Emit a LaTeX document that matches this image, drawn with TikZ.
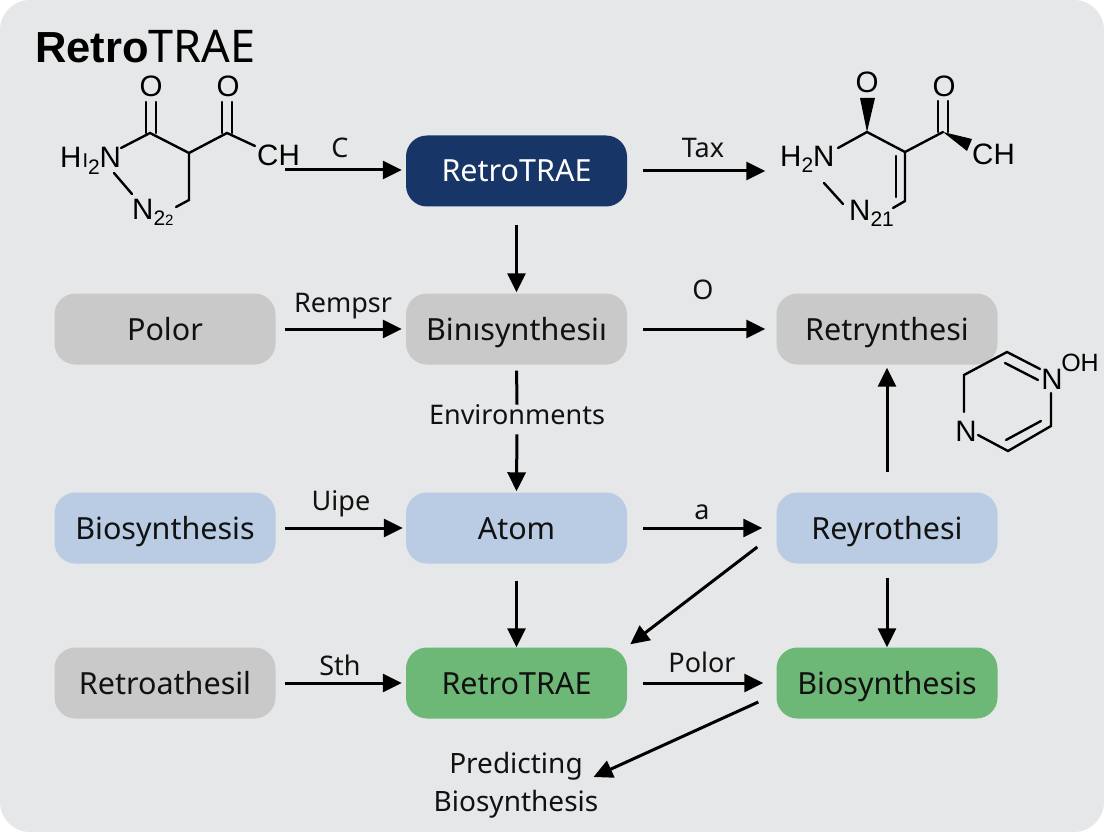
\documentclass[tikz,border=0pt]{standalone}
\usepackage{fontspec}
\setmainfont{Noto Sans}
\newfontfamily\chemfont{Liberation Sans}
\usetikzlibrary{arrows.meta,calc}
\definecolor{bgc}{HTML}{E6E7E8}
\definecolor{navyc}{HTML}{173566}
\definecolor{grayc}{HTML}{C9C9C9}
\definecolor{bluec}{HTML}{B9CCE4}
\definecolor{greenc}{HTML}{6DB877}
\definecolor{inkc}{HTML}{111111}
\tikzset{
  box/.style={draw=none,rounded corners=21pt,minimum width=221pt,minimum height=71pt,inner sep=0pt,
    text=inkc,text height=22pt,text depth=0pt,font=\fontsize{30.5}{34}\selectfont},
  graybox/.style={box,fill=grayc},
  bluebox/.style={box,fill=bluec},
  greenbox/.style={box,fill=greenc},
  navybox/.style={box,fill=navyc,text=white},
  arr/.style={draw=black,line width=3pt,-{Triangle[length=19pt,width=18pt]}},
  plainline/.style={draw=black,line width=3pt},
  lab/.style={inner sep=0pt,text=inkc,font=\fontsize{27}{30}\selectfont},
  bond/.style={draw=black,line width=2.4pt,line cap=round},
  wedge/.style={fill=black,draw=none},
  atom/.style={inner sep=0pt,text=black,anchor=base west,font=\chemfont\fontsize{29.5}{32}\selectfont},
}
\newcommand{\sbs}[1]{{\fontsize{21}{22}\selectfont\raisebox{-6pt}{#1}}}
\begin{document}
\begin{tikzpicture}[x=1pt,y=-1pt]
\useasboundingbox (0,0) rectangle (1104,832);
\fill[white] (0,0) rectangle (1104,832);
\fill[bgc,rounded corners=30pt] (0,0) rectangle (1104,832);

\node[anchor=base west,inner sep=0pt,text=black,font=\fontsize{45}{48}\selectfont] (title) at (35,63) {{\chemfont\bfseries\fontsize{43.5}{48}\selectfont Retro}TRAE};

% boxes
\node[navybox] (top) at (516.5,171) {RetroTRAE};
\node[graybox] (polor) at (165,329) {Polor};
\node[graybox] (bini) at (516.5,329) {Binısynthesiı};
\node[graybox] (retry) at (887,329) {Retrynthesi};
\node[bluebox] (bio) at (165,528) {Biosynthesis};
\node[bluebox] (atomb) at (516.5,528) {Atom};
\node[bluebox] (rey) at (887,528) {Reyrothesi};
\node[graybox] (retroa) at (165,683) {Retroathesil};
\node[greenbox] (rgreen) at (516.5,683) {RetroTRAE};
\node[greenbox] (bgreen) at (887,683) {Biosynthesis};
\node[inner sep=0pt,align=center,text=inkc,font=\fontsize{28}{38}\selectfont] (pred) at (516,785) {Predicting\\Biosynthesis};

% left molecule
\node[atom] (mch) at (257,166) {CH};
\coordinate (ar1) at (285,170);
\node[atom,anchor=center] (o1) at (151,86) {O};
\node[atom,anchor=center] (o2) at (228,86) {O};
\node[atom] (hn1) at (60,168) {H\kern1pt{\fontsize{20}{22}\selectfont I}\sbs{2}N};
\node[atom] (n1) at (132,219) {N\sbs{2}{\fontsize{21}{22}\selectfont\raisebox{-6pt}{\fontsize{15}{16}\selectfont 2}}};
\draw[bond] (146,102) -- (146,133) (156,102) -- (156,133);
\draw[bond] (121,148) -- (150,133) -- (189,153) -- (227,133) -- (255,146);
\draw[bond] (222,102) -- (222,133) (232,102) -- (232,133);
\draw[bond] (189,153) -- (189,200) -- (176,207);
\draw[bond] (114,173) -- (132,194);

% right molecule
\node[atom,anchor=center] (o3) at (867,82) {O};
\node[atom,anchor=center] (o4) at (944,86) {O};
\node[atom] (hn2) at (780,167) {H\sbs{2}N};
\node[atom] (n2) at (849,220) {N\sbs{21}};
\node[atom] (mch2) at (972,165) {CH};
\fill[wedge] (867,132) -- (860,98) -- (875,98) -- cycle;
\fill[wedge] (943,132) -- (972,139) -- (967,151) -- cycle;
\draw[bond] (838,148) -- (867,132) -- (905,152) -- (943,132);
\draw[bond] (938,101) -- (938,132) (948,101) -- (948,132);
\draw[bond] (905,152) -- (905,201) -- (893,208);
\draw[bond] (896,156) -- (896,197);
\draw[bond] (824,183) -- (843,204);

% ring
\node[atom,anchor=center] (n3) at (1052,379) {N};
\node[atom,anchor=center] (n4) at (966,431) {N};
\node[atom,anchor=center,font=\chemfont\fontsize{25}{28}\selectfont] (oh) at (1080,363) {OH};
\draw[bond] (964,412) -- (964,375) -- (1007,352) -- (1040,369);
\draw[bond] (1005,363) -- (1038,380);
\draw[bond] (1051,393) -- (1051,426) -- (1008,451) -- (978,435);
\draw[bond] (1006,440) -- (1041,421);

% connector labels
\node[lab] (lc) at (340,148) {C};
\node[lab] (ltax) at (703,148) {Tax};
\node[lab] (lrem) at (343,306) {Rempsr};
\node[lab] (lo) at (703,290) {O};
\node[lab] (lenv) at (517,415) {Environments};
\node[lab] (luipe) at (341,504) {Uipe};
\node[lab] (la) at (702,512) {a};
\node[lab] (lsth) at (340,665) {Sth};
\node[lab] (lpol) at (702,662) {Polor};

% connectors
\draw[arr,shorten >=4pt] (ar1) -- (top.west |- ar1) ;
\draw[arr,shorten <=16pt] (top.east) -- ([xshift=-11pt]retry.west |- top.east);
\draw[arr,shorten <=18pt,shorten >=1pt] (top.south) -- (bini.north);
\draw[arr,shorten <=9pt,shorten >=4pt] (polor.east) -- (bini.west);
\draw[arr,shorten <=16pt,shorten >=11pt] (bini.east) -- (retry.west);
\draw[plainline,shorten <=6pt] (bini.south) -- (lenv.north);
\draw[arr,shorten <=9pt,shorten >=1pt] (lenv.south) -- (atomb.north);
\draw[arr,shorten <=9pt,shorten >=3pt] (bio.east) -- (atomb.west);
\draw[arr,shorten <=16pt,shorten >=14pt] (atomb.east) -- (rey.west);
\draw[arr,shorten <=20pt,shorten >=3pt] (rey.north) -- (retry.south);
\draw[arr,shorten <=14pt,shorten >=0pt] (rey.south) -- (bgreen.north);
\draw[arr,shorten <=17pt,shorten >=0pt] (atomb.south) -- (rgreen.north);
\draw[arr] ([shift={(-19,19)}]rey.west) -- ([shift={(3,-3)}]rgreen.north east);
\draw[arr,shorten <=9pt,shorten >=4pt] (retroa.east) -- (rgreen.west);
\draw[arr,shorten <=16pt,shorten >=13pt] (rgreen.east) -- (bgreen.west);
\draw[arr] ([shift={(-18,19)}]bgreen.west) -- ([shift={(-5,-8)}]pred.east);
\end{tikzpicture}
\end{document}
